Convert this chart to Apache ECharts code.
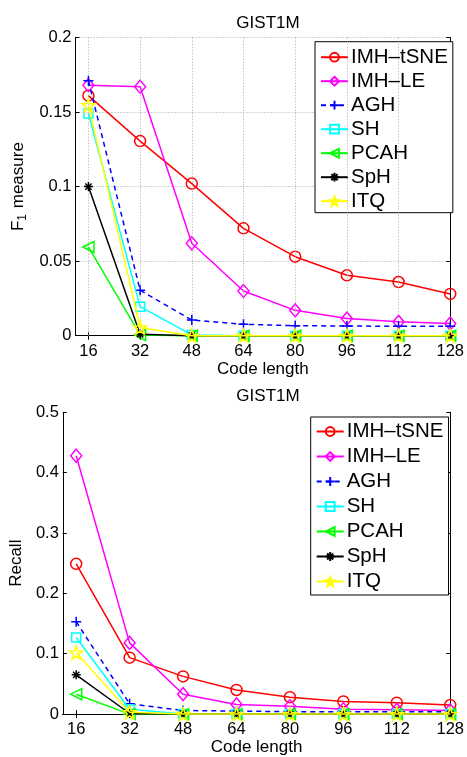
<!DOCTYPE html>
<html>
<head>
<meta charset="utf-8">
<script src="https://cdn.jsdelivr.net/npm/echarts@6/dist/echarts.min.js"></script>
<style>
html,body{margin:0;padding:0;background:#fff;}
#c{width:467px;height:757px;}
</style>
</head>
<body>
<div id="c"></div>
<script>
// ---- data ----
const codeLengths = [16, 32, 48, 64, 80, 96, 112, 128];
const seriesNames = ['IMH–tSNE', 'IMH–LE', 'AGH', 'SH', 'PCAH', 'SpH', 'ITQ'];

// F1 measure (top panel)
const f1ImhTsne = [0.161, 0.1305, 0.102, 0.072, 0.053, 0.0405, 0.036, 0.028];
const f1ImhLe   = [0.168, 0.167, 0.062, 0.030, 0.017, 0.0115, 0.0093, 0.0082];
const f1Agh     = [0.171, 0.0305, 0.0105, 0.0077, 0.0067, 0.0065, 0.0063, 0.0063];
const f1Sh      = [0.149, 0.0195, 0.0005, 0, 0, 0, 0, 0];
const f1Pcah    = [0.0595, 0.0005, 0, 0, 0, 0, 0, 0];
const f1Sph     = [0.100, 0.001, 0, 0, 0, 0, 0, 0];
const f1Itq     = [0.1545, 0.0055, 0, 0, 0, 0, 0, 0];

// Recall (bottom panel)
const recImhTsne = [0.249, 0.0935, 0.0625, 0.040, 0.028, 0.021, 0.019, 0.015];
const recImhLe   = [0.428, 0.118, 0.033, 0.016, 0.013, 0.008, 0.007, 0.006];
const recAgh     = [0.153, 0.017, 0.006, 0.005, 0.004, 0.004, 0.004, 0.004];
const recSh      = [0.127, 0.008, 0, 0, 0, 0, 0, 0];
const recPcah    = [0.033, 0, 0, 0, 0, 0, 0, 0];
const recSph     = [0.065, 0.001, 0, 0, 0, 0, 0, 0];
const recItq     = [0.102, 0.003, 0, 0, 0, 0, 0, 0];

// ---- styles ----
const FONT = 'Liberation Sans, Arial, Helvetica, sans-serif';
const styles = [
  {color: '#ff0000', symbol: 'circle', size: 11, dash: 'solid'},
  {color: '#ff00ff', symbol: 'diamond', size: [11, 13], dash: 'solid'},
  {color: '#0000ff', symbol: 'path://M50,0L50,100M0,50L100,50', size: 10, dash: [5, 4]},
  {color: '#00ffff', symbol: 'rect', size: 9, dash: 'solid'},
  {color: '#00ff00', symbol: 'path://M0,50L100,0L100,100Z', size: 11, dash: 'solid'},
  {color: '#000000', symbol: 'path://M50,0L50,100M0,50L100,50M15,15L85,85M85,15L15,85', size: 9, dash: 'solid'},
  {color: '#ffff00', symbol: 'path://M50,0L61.8,33.8L97.6,34.5L69,56.2L79.4,90.5L50,70L20.6,90.5L31,56.2L2.4,34.5L38.2,33.8Z', size: 13, dash: 'solid'}
];

const f1Data = [f1ImhTsne, f1ImhLe, f1Agh, f1Sh, f1Pcah, f1Sph, f1Itq];
const recData = [recImhTsne, recImhLe, recAgh, recSh, recPcah, recSph, recItq];

function makeSeries(dataArr, axisIdx) {
  return dataArr.map((vals, i) => ({
    name: seriesNames[i],
    type: 'line',
    xAxisIndex: axisIdx,
    yAxisIndex: axisIdx,
    data: vals.map((v, j) => [codeLengths[j], v]),
    symbol: styles[i].symbol,
    symbolSize: styles[i].size,
    showAllSymbol: true,
    clip: false,
    animation: false,
    lineStyle: {color: styles[i].color, width: 1.5, type: styles[i].dash},
    itemStyle: {color: 'rgba(255,255,255,0)', borderColor: styles[i].color, borderWidth: 1.5},
    emphasis: {disabled: true},
    z: 3 + i
  }));
}

// vertical dotted grid lines for the top panel
const gridSeries = {
  type: 'line', xAxisIndex: 0, yAxisIndex: 0, data: [], silent: true, z: 1,
  markLine: {
    silent: true, symbol: ['none', 'none'], animation: false,
    label: {show: false},
    lineStyle: {color: '#a8a8a8', type: [1, 2], width: 1},
    emphasis: {disabled: true},
    data: codeLengths.slice(0, -1).map(v => ({xAxis: v}))
  }
};

function xAxisMain(gridIdx) {
  return {
    type: 'value', gridIndex: gridIdx, min: 12, max: 128, position: 'bottom',
    name: 'Code length', nameLocation: 'middle', nameGap: 23,
    nameTextStyle: {fontFamily: FONT, fontSize: 17, color: '#000'},
    axisLine: {show: true, lineStyle: {color: '#000', width: 1}},
    axisTick: {show: true, inside: true, length: 4, customValues: codeLengths, lineStyle: {color: '#000'}},
    axisLabel: {show: true, customValues: codeLengths, margin: 7, fontFamily: FONT, fontSize: 16.5, color: '#000'},
    splitLine: {show: false}
  };
}
function xAxisMirror(gridIdx) {
  return {
    type: 'value', gridIndex: gridIdx, min: 12, max: 128, position: 'top',
    axisLine: {show: true, lineStyle: {color: '#000', width: 1}},
    axisTick: {show: true, inside: true, length: 4, customValues: codeLengths, lineStyle: {color: '#000'}},
    axisLabel: {show: false},
    splitLine: {show: false}
  };
}
function yAxisMain(gridIdx, max, interval, name, gap, showGrid) {
  return {
    type: 'value', gridIndex: gridIdx, min: 0, max: max, interval: interval, position: 'left',
    name: name, nameLocation: 'middle', nameGap: gap, nameRotate: 90,
    nameTextStyle: {fontFamily: FONT, fontSize: 17, color: '#000',
      rich: {
        n: {fontFamily: FONT, fontSize: 17, color: '#000'},
        s: {fontFamily: FONT, fontSize: 12, color: '#000', padding: [9, 1, 0, 0]}
      }},
    axisLine: {show: true, lineStyle: {color: '#000', width: 1}},
    axisTick: {show: true, inside: true, length: 4, lineStyle: {color: '#000'}},
    axisLabel: {show: true, margin: 4, fontFamily: FONT, fontSize: 16.5, color: '#000',
      formatter: v => String(+v.toFixed(2))},
    splitLine: {show: showGrid, lineStyle: {color: '#a8a8a8', type: [1, 2], width: 1}}
  };
}
function yAxisMirror(gridIdx, max, interval) {
  return {
    type: 'value', gridIndex: gridIdx, min: 0, max: max, interval: interval, position: 'right',
    axisLine: {show: true, lineStyle: {color: '#000', width: 1}},
    axisTick: {show: true, inside: true, length: 4, lineStyle: {color: '#000'}},
    axisLabel: {show: false},
    splitLine: {show: false}
  };
}

function legendCfg(left, top, gap, padTop, padBottom) {
  return {
    orient: 'vertical', left: left, top: top,
    data: seriesNames,
    backgroundColor: '#fff', borderColor: '#000', borderWidth: 1, borderRadius: 0,
    padding: [padTop, 5, padBottom, 5],
    itemWidth: 27, itemHeight: 11, itemGap: gap,
    selectedMode: false,
    textStyle: {fontFamily: FONT, fontSize: 20.5, color: '#000', lineHeight: 20, padding: [0, 0, 0, -2]}
  };
}

const chart = echarts.init(document.getElementById('c'), null, {renderer: 'canvas'});
chart.setOption({
  backgroundColor: '#fff',
  animation: false,
  title: [
    {text: 'GIST1M', left: 263, top: 10, textAlign: 'center',
     textStyle: {fontFamily: FONT, fontSize: 17, fontWeight: 'normal', color: '#000'}},
    {text: 'GIST1M', left: 263, top: 383, textAlign: 'center',
     textStyle: {fontFamily: FONT, fontSize: 17, fontWeight: 'normal', color: '#000'}}
  ],
  grid: [
    {left: 75.5, top: 37.5, width: 377, height: 298.2},
    {left: 62, top: 412.3, width: 390, height: 306.7}
  ],
  xAxis: [xAxisMain(0), xAxisMirror(0), xAxisMain(1), xAxisMirror(1)],
  yAxis: [
    yAxisMain(0, 0.2, 0.05, '{n|F}{s|1}{n| measure}', 42, true),
    yAxisMirror(0, 0.2, 0.05),
    yAxisMain(1, 0.5, 0.1, 'Recall', 33, false),
    yAxisMirror(1, 0.5, 0.1)
  ],
  legend: [legendCfg(315, 41.7, 3, 5, 1), legendCfg(310.7, 417, 4, 4, 3)],
  series: [gridSeries].concat(makeSeries(f1Data, 0), makeSeries(recData, 2))
});
</script>
</body>
</html>
